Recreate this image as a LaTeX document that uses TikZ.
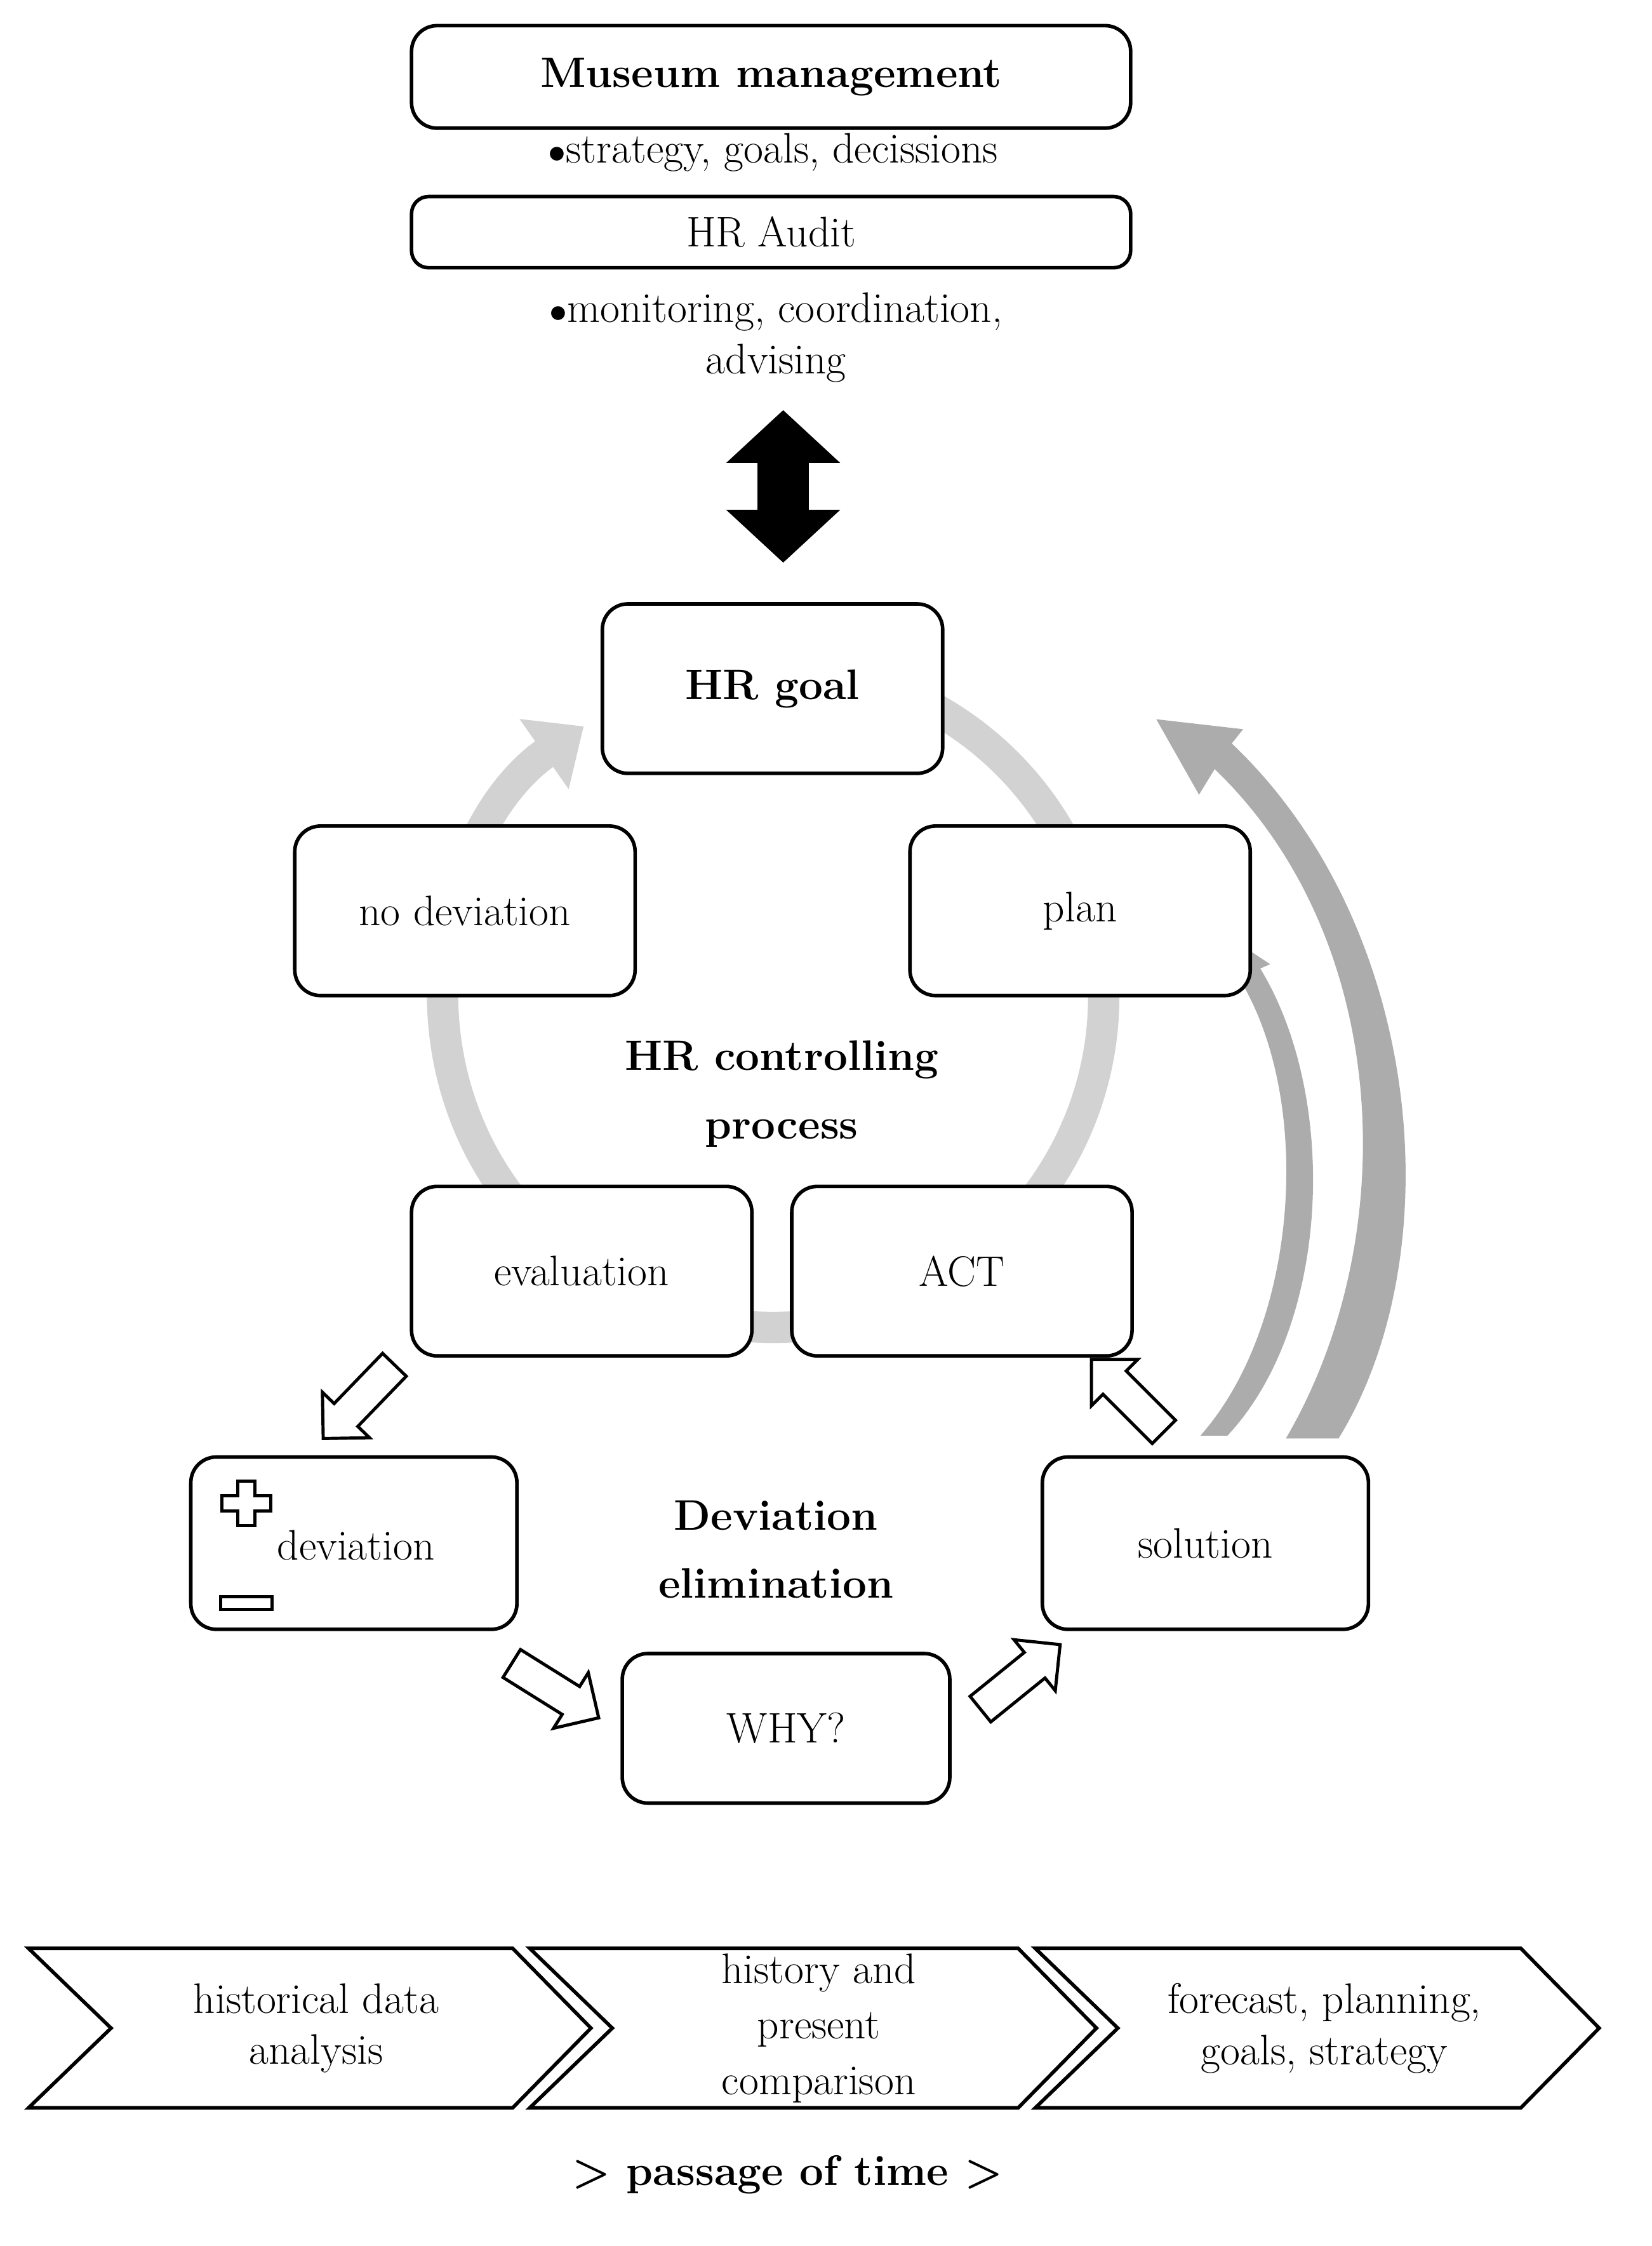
\documentclass[tikz,border=0pt]{standalone}
\usetikzlibrary{shapes.arrows,arrows.meta}
\begin{document}
\begin{tikzpicture}[x=1pt,y=-1pt,
  box/.style={draw,line width=2.5pt,rounded corners=18pt,fill=white,inner sep=0pt},
  txt/.style={font=\fontsize{30}{36}\selectfont,align=center},
  hol/.style={single arrow,draw,line width=2.2pt,fill=white,minimum width=46pt,minimum height=72pt,single arrow head extend=11pt,single arrow tip angle=90,inner sep=10pt},
  chev/.style={draw,line width=2.5pt,fill=white}]
\useasboundingbox (0,0) rectangle (1160,1577);
% top
\node[box,minimum width=505pt,minimum height=72pt,txt] (mm) at (541.5,54) {\textbf{Museum management}};
\node[txt] (s1) at (543,107) {$\bullet$strategy, goals, decissions};
\node[box,minimum width=505pt,minimum height=50pt,txt,rounded corners=12pt] (au) at (541.5,163) {HR Audit};
\node[txt] (s2) at (545,237) {$\bullet$monitoring, coordination,\\advising};
\fill (550,288) -- (590,325) -- (568,325) -- (568,358) -- (590,358) -- (550,395) -- (510,358) -- (532,358) -- (532,325) -- (510,325) -- cycle;
% ring
\coordinate (c) at (543,700);
\draw[line width=22pt,gray!35,-{Triangle[width=58pt,length=34pt]}] ([shift={(-105:232)}]c) arc[start angle=-105,end angle=235,radius=232];
% crescents
\fill[gray!65] (862,1008) .. controls (935,930) and (940,770) .. (885,680) -- (892,677) -- (848,648) -- (862,698) -- (872,690) .. controls (922,775) and (912,930) .. (843,1008) -- cycle;
\fill[gray!65] (940,1010) .. controls (1020,880) and (1000,650) .. (865,522) -- (873,512) -- (812,505) -- (842,558) -- (853,540) .. controls (978,660) and (985,870) .. (903,1010) -- cycle;
% boxes
\node[box,minimum width=239pt,minimum height=119pt,txt] (goal) at (542.5,483.5) {\textbf{HR goal}};
\node[box,minimum width=239pt,minimum height=119pt,txt] (nod) at (326.5,639.5) {no deviation};
\node[box,minimum width=239pt,minimum height=119pt,txt] (plan) at (758.5,639.5) {plan};
\node[txt] (hrc) at (549,768) {\textbf{HR controlling}\\[12pt]\textbf{process}};
\node[box,minimum width=239pt,minimum height=119pt,txt] (ev) at (408.5,892.5) {evaluation};
\node[box,minimum width=239pt,minimum height=119pt,txt] (act) at (675.5,892.5) {ACT};
\node[box,minimum width=229pt,minimum height=121pt,txt] (dev) at (248.5,1083.5) {};
\node[txt] (devt) at (250,1085) {deviation};
\draw[line width=2.2pt] (167,1040) -- (179,1040) -- (179,1050) -- (190,1050) -- (190,1061) -- (179,1061) -- (179,1071) -- (167,1071) -- (167,1061) -- (156,1061) -- (156,1050) -- (167,1050) -- cycle;
\draw[line width=2.2pt] (155,1121) rectangle (191,1130);
\node[txt] (de) at (545,1088) {\textbf{Deviation}\\[12pt]\textbf{elimination}};
\node[box,minimum width=229pt,minimum height=121pt,txt] (sol) at (846.5,1083.5) {solution};
\node[box,minimum width=230pt,minimum height=105pt,txt] (why) at (552,1213.5) {WHY?};
% hollow arrows
\node[hol,rotate=-134] (a1) at (256,980) {};
\node[hol,rotate=-32] (a2) at (385,1184) {};
\node[hol,rotate=39] (a3) at (712,1181) {};
\node[hol,rotate=135] (a4) at (796,984) {};
% chevrons
\draw[chev] (20,1368) -- (360,1368) -- (415,1424) -- (360,1480) -- (20,1480) -- (78,1424) -- cycle;
\draw[chev] (372,1368) -- (715,1368) -- (770,1424) -- (715,1480) -- (372,1480) -- (430,1424) -- cycle;
\draw[chev] (727,1368) -- (1068,1368) -- (1123,1424) -- (1068,1480) -- (727,1480) -- (785,1424) -- cycle;
\node[txt] (c1) at (222,1424) {historical data\\analysis};
\node[txt,font=\fontsize{30}{39}\selectfont] (c2) at (575,1424) {history and\\present\\comparison};
\node[txt] (c3) at (930,1424) {forecast, planning,\\goals, strategy};
\node[txt] (pt) at (553,1527) {\textbf{> passage of time >}};
\end{tikzpicture}
\end{document}
